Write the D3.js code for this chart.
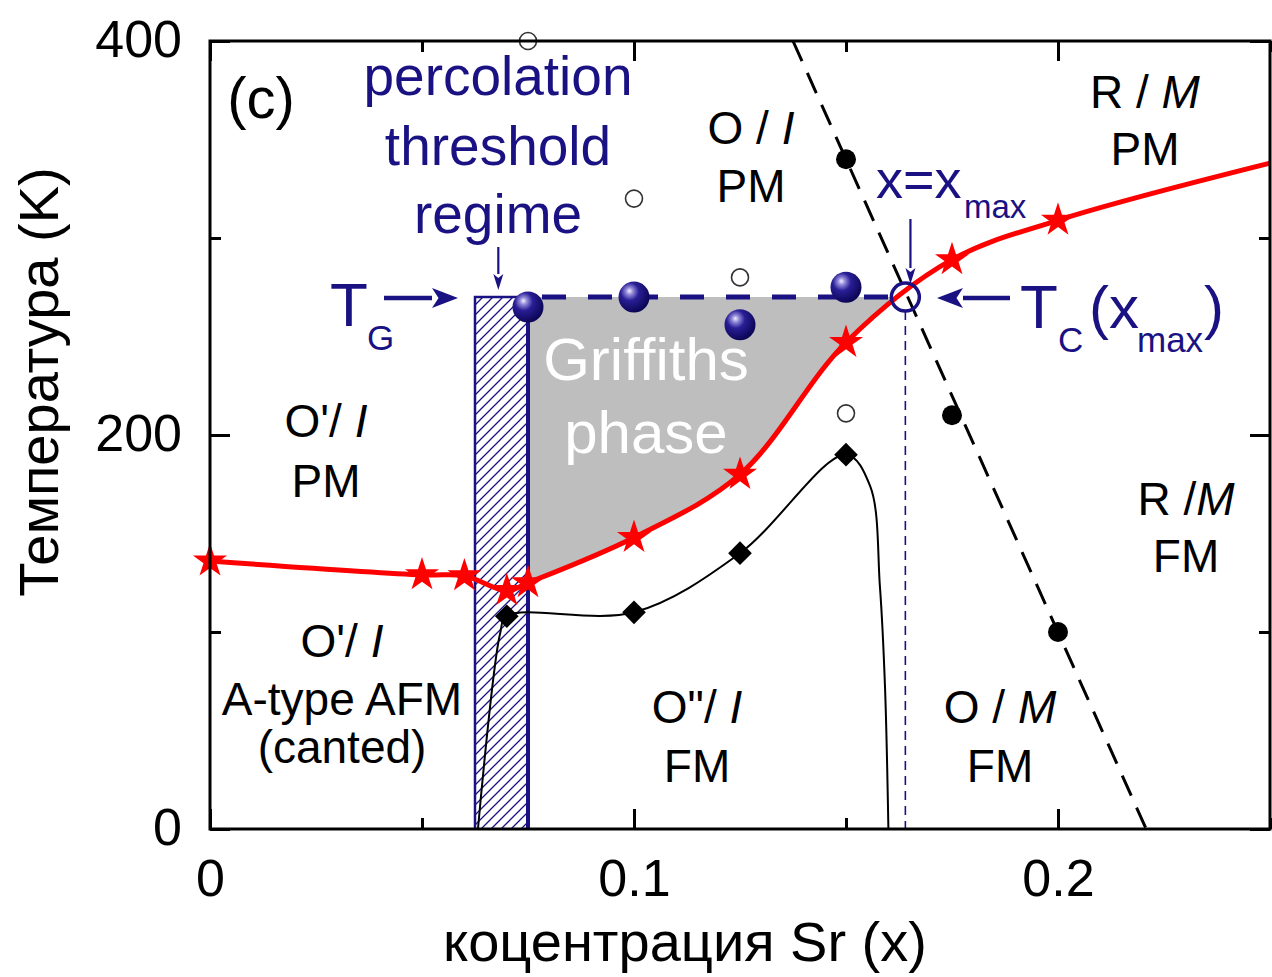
<!DOCTYPE html>
<html><head><meta charset="utf-8">
<script src="https://cdn.jsdelivr.net/npm/d3@7"></script>
<style>html,body{margin:0;padding:0;background:#fff;}svg{display:block;}</style>
</head><body>
<script>
// ---------- data ----------
const tcX = [0, 0.05, 0.06, 0.07, 0.075, 0.1, 0.125, 0.15, 0.175, 0.2];   // red stars
const tcT = [136, 129, 128.5, 121, 125, 148, 180, 247, 289, 309];
const tcLineX = [0, 0.05, 0.06, 0.07, 0.075, 0.1, 0.125, 0.15, 0.175, 0.2, 0.25]; // red line
const tcLineT = [136, 129, 128.5, 121, 125, 148, 180, 247, 289, 309, 338];
const tnX = [0.07, 0.1, 0.125, 0.15];            // black diamonds
const tnT = [108, 110, 140, 190];
const tnCurveX = [0.0632, 0.0684, 0.07, 0.1, 0.125, 0.15, 0.1557, 0.158, 0.1592, 0.16];
const tnCurveT = [0, 99, 108, 110, 140, 190, 174, 123, 72, 0];
const openX = [0.075, 0.1, 0.125, 0.15];          // open circles
const openT = [400, 320, 280, 211];
const dotX = [0.15, 0.175, 0.2];                  // filled black circles
const dotT = [340, 210, 100];
const bndX = [0.1375, 0.2208];                    // dashed structural boundary
const bndT = [400, 0];
const tgX = [0.075, 0.1, 0.125, 0.15];            // blue spheres (T_G)
const tgT = [265, 270, 256, 275];
const TG = 270;
const percX = [0.0625, 0.075];
const xMax = 0.164;
const xMajor = [0, 0.1, 0.2];
const xMinor = [0.05, 0.15, 0.25];
const yMajor = [0, 200, 400];
const yMinor = [100, 300];
const xTickLabels = ["0", "0.1", "0.2"];
const yTickLabels = ["0", "200", "400"];

// ---------- setup ----------
const W = 1272, H = 977;
const NAVY = "#1a1183";
const FONT = "'Liberation Sans', Arial, Helvetica, sans-serif";
const svg = d3.select("body").append("svg").attr("width", W).attr("height", H)
  .style("font-family", FONT);
const x = d3.scaleLinear().domain([0, 0.25]).range([210, 1270]);
const y = d3.scaleLinear().domain([0, 400]).range([829, 41]);

const defs = svg.append("defs");
const pat = defs.append("pattern").attr("id", "hatch").attr("patternUnits", "userSpaceOnUse")
  .attr("width", 10).attr("height", 10);
pat.append("path").attr("d", "M-1,1 L1,-1 M0,10 L10,0 M9,11 L11,9").attr("stroke", NAVY).attr("stroke-width", 1.3);
const rg = defs.append("radialGradient").attr("id", "sphere").attr("cx", "38%").attr("cy", "35%").attr("r", "65%")
  .attr("fx", "35%").attr("fy", "30%");
rg.append("stop").attr("offset", "0%").attr("stop-color", "#f4f0ff");
rg.append("stop").attr("offset", "18%").attr("stop-color", "#9088d8");
rg.append("stop").attr("offset", "45%").attr("stop-color", "#2a1e96");
rg.append("stop").attr("offset", "100%").attr("stop-color", "#0c0656");
defs.append("clipPath").attr("id", "gclip").append("rect")
  .attr("x", x(percX[1])).attr("y", y(TG)).attr("width", x(0.25) - x(percX[1])).attr("height", y(0) - y(TG));

const tcPts = tcLineX.map((v, i) => [v, tcLineT[i]]);
const redLine = d3.line().x(d => x(d[0])).y(d => y(d[1])).curve(d3.curveCatmullRom.alpha(0.5));

// Griffiths region (above red curve, below T_G, right of percolation)
svg.append("path")
  .attr("d", redLine(tcPts) + `L${x(0.25)},${y(400)}L${x(0)},${y(400)}Z`)
  .attr("fill", "#bebebe").attr("clip-path", "url(#gclip)");

// hatched percolation band
svg.append("rect").attr("x", x(percX[0])).attr("y", y(TG))
  .attr("width", x(percX[1]) - x(percX[0])).attr("height", y(0) - y(TG))
  .attr("fill", "url(#hatch)");
svg.append("path").attr("d", `M${x(percX[0])},${y(0)}V${y(TG)}H${x(percX[1])}`)
  .attr("fill", "none").attr("stroke", NAVY).attr("stroke-width", 2.5);
svg.append("line").attr("x1", x(percX[1])).attr("x2", x(percX[1])).attr("y1", y(TG)).attr("y2", y(0))
  .attr("stroke", NAVY).attr("stroke-width", 4);

// dashed structural boundary
svg.append("line").attr("x1", x(bndX[0])).attr("y1", y(bndT[0])).attr("x2", x(bndX[1])).attr("y2", y(bndT[1]))
  .attr("stroke", "#000").attr("stroke-width", 3).attr("stroke-dasharray", "22,13");

// vertical thin dashed line at x_max
svg.append("line").attr("x1", x(xMax)).attr("x2", x(xMax)).attr("y1", y(TG) + 14).attr("y2", y(0))
  .attr("stroke", NAVY).attr("stroke-width", 1.6).attr("stroke-dasharray", "9,6");

// thin black curve
const tnPts = tnCurveX.map((v, i) => [v, tnCurveT[i]]);
svg.append("path").attr("d", d3.line().x(d => x(d[0])).y(d => y(d[1])).curve(d3.curveCatmullRom.alpha(0.5))(tnPts))
  .attr("fill", "none").attr("stroke", "#000").attr("stroke-width", 2);

// red curve
svg.append("path").attr("d", redLine(tcPts)).attr("fill", "none").attr("stroke", "#ff0000").attr("stroke-width", 5);

// T_G dashed line
svg.append("line").attr("x1", x(percX[1])).attr("x2", x(xMax) - 12).attr("y1", y(TG)).attr("y2", y(TG))
  .attr("stroke", NAVY).attr("stroke-width", 5).attr("stroke-dasharray", "24,22").attr("stroke-dashoffset", -14);

// diamonds
const sq = d3.symbol(d3.symbolSquare, 280);
svg.append("g").selectAll("path").data(tnX).join("path")
  .attr("d", sq).attr("transform", (d, i) => `translate(${x(d)},${y(tnT[i])}) rotate(45)`).attr("fill", "#000");

// stars
const star = d3.symbol(d3.symbolStar, 360);
svg.append("g").selectAll("path").data(tcX).join("path")
  .attr("d", star).attr("transform", (d, i) => `translate(${x(d)},${y(tcT[i])})`).attr("fill", "#ff0000");

// open circles
svg.append("g").selectAll("circle").data(openX).join("circle")
  .attr("cx", d => x(d)).attr("cy", (d, i) => y(openT[i])).attr("r", 8.5)
  .attr("fill", "#fff").attr("stroke", "#333").attr("stroke-width", 1.6);

// filled circles
svg.append("g").selectAll("circle").data(dotX).join("circle")
  .attr("cx", d => x(d)).attr("cy", (d, i) => y(dotT[i])).attr("r", 10).attr("fill", "#000");

// spheres
svg.append("g").selectAll("circle").data(tgX).join("circle")
  .attr("cx", d => x(d)).attr("cy", (d, i) => y(tgT[i])).attr("r", 15.5).attr("fill", "url(#sphere)");

// x_max circle
svg.append("circle").attr("cx", x(xMax)).attr("cy", y(TG)).attr("r", 14)
  .attr("fill", "none").attr("stroke", NAVY).attr("stroke-width", 3.5);

// arrows
function arrow(x1, y1, x2, y2, w, hl, hw) {
  const a = Math.atan2(y2 - y1, x2 - x1);
  const bx = x2 - hl * Math.cos(a), by = y2 - hl * Math.sin(a);
  svg.append("line").attr("x1", x1).attr("y1", y1).attr("x2", bx).attr("y2", by)
    .attr("stroke", NAVY).attr("stroke-width", w);
  const px = -Math.sin(a) * hw / 2, py = Math.cos(a) * hw / 2;
  svg.append("path").attr("d", `M${x2},${y2}L${bx + px},${by + py}L${bx + hl * 0.25 * Math.cos(a)},${by + hl * 0.25 * Math.sin(a)}L${bx - px},${by - py}Z`)
    .attr("fill", NAVY);
}
arrow(384, y(TG) + 1, 458, y(TG) + 1, 4.5, 26, 20);       // T_G
arrow(1010, y(TG) + 1, 937, y(TG) + 1, 4.5, 26, 20);      // T_C
arrow(x(0.068), 247, x(0.068), 290, 2.2, 16, 10);         // percolation
arrow(x(0.1652), 219, x(0.1652), 284, 2.2, 16, 10);       // x = x_max

// ---------- text ----------
function label(cx, lines, size, fill) {
  lines.forEach(l => {
    const t = svg.append("text").attr("x", cx).attr("y", l.y).attr("text-anchor", "middle")
      .attr("font-size", size).attr("fill", fill || "#000");
    l.parts.forEach(p => t.append("tspan").text(p[0]).attr("font-style", p[1] ? "italic" : null));
  });
}
label(261, [{y: 118, parts: [["(c)"]]}], 58);
label(498, [{y: 95, parts: [["percolation"]]}, {y: 165, parts: [["threshold"]]}, {y: 233, parts: [["regime"]]}], 55, NAVY);
label(751, [{y: 144, parts: [["O / "], ["I", 1]]}, {y: 202, parts: [["PM"]]}], 46);
label(1145, [{y: 108, parts: [["R / "], ["M", 1]]}, {y: 165, parts: [["PM"]]}], 46);
label(326, [{y: 437, parts: [["O'/ "], ["I", 1]]}, {y: 497, parts: [["PM"]]}], 46);
label(342, [{y: 657, parts: [["O'/ "], ["I", 1]]}, {y: 715, parts: [["A-type AFM"]]}, {y: 763, parts: [["(canted)"]]}], 46);
label(697, [{y: 723, parts: [["O\"/ "], ["I", 1]]}, {y: 782, parts: [["FM"]]}], 46);
label(1000, [{y: 723, parts: [["O / "], ["M", 1]]}, {y: 782, parts: [["FM"]]}], 46);
label(1186, [{y: 515, parts: [["R /"], ["M", 1]]}, {y: 572, parts: [["FM"]]}], 46);
label(646, [{y: 380, parts: [["Griffiths"]]}, {y: 453, parts: [["phase"]]}], 60, "#fff");

// T_G
svg.append("text").attr("x", 330).attr("y", 326).attr("font-size", 62).attr("fill", NAVY).text("T");
svg.append("text").attr("x", 367).attr("y", 350).attr("font-size", 35).attr("fill", NAVY).text("G");
// T_C(x_max)
svg.append("text").attr("x", 1020).attr("y", 328).attr("font-size", 62).attr("fill", NAVY).text("T");
svg.append("text").attr("x", 1058).attr("y", 352).attr("font-size", 35).attr("fill", NAVY).text("C");
svg.append("text").attr("x", 1089).attr("y", 328).attr("font-size", 60).attr("fill", NAVY).text("(x");
svg.append("text").attr("x", 1137).attr("y", 352).attr("font-size", 35).attr("fill", NAVY).text("max");
svg.append("text").attr("x", 1204).attr("y", 328).attr("font-size", 60).attr("fill", NAVY).text(")");
// x = x_max
svg.append("text").attr("x", 876).attr("y", 198).attr("font-size", 54).attr("fill", NAVY).text("x=x");
svg.append("text").attr("x", 964).attr("y", 218).attr("font-size", 33).attr("fill", NAVY).text("max");

// ---------- axes / frame ----------
const gx = svg.append("g").attr("transform", `translate(0,${y(0)})`);
gx.call(d3.axisBottom(x).tickValues(xMajor).tickSize(-20).tickPadding(30).tickFormat((d, i) => xTickLabels[i]));
const gx2 = svg.append("g").attr("transform", `translate(0,${y(0)})`);
gx2.call(d3.axisBottom(x).tickValues(xMinor).tickSize(-11).tickFormat(""));
const gt = svg.append("g").attr("transform", `translate(0,${y(400)})`);
gt.call(d3.axisTop(x).tickValues(xMajor).tickSize(-20).tickFormat(""));
const gt2 = svg.append("g").attr("transform", `translate(0,${y(400)})`);
gt2.call(d3.axisTop(x).tickValues(xMinor).tickSize(-11).tickFormat(""));
const gy = svg.append("g").attr("transform", `translate(${x(0)},0)`);
gy.call(d3.axisLeft(y).tickValues(yMajor).tickSize(-20).tickPadding(28).tickFormat((d, i) => yTickLabels[i]));
const gy2 = svg.append("g").attr("transform", `translate(${x(0)},0)`);
gy2.call(d3.axisLeft(y).tickValues(yMinor).tickSize(-11).tickFormat(""));
const gr = svg.append("g").attr("transform", `translate(${x(0.25)},0)`);
gr.call(d3.axisRight(y).tickValues(yMajor).tickSize(-20).tickFormat(""));
const gr2 = svg.append("g").attr("transform", `translate(${x(0.25)},0)`);
gr2.call(d3.axisRight(y).tickValues(yMinor).tickSize(-11).tickFormat(""));
svg.selectAll(".domain").remove();
svg.selectAll(".tick line").attr("stroke", "#000").attr("stroke-width", 3);
svg.selectAll(".tick text").attr("font-family", FONT).attr("font-size", 52).attr("fill", "#000");
gx.selectAll(".tick text").attr("dy", "0.71em");
gy.selectAll(".tick text").attr("dy", "0.3em");

svg.append("rect").attr("x", x(0)).attr("y", y(400)).attr("width", x(0.25) - x(0)).attr("height", y(0) - y(400))
  .attr("fill", "none").attr("stroke", "#000").attr("stroke-width", 3);

// axis titles
svg.append("text").attr("transform", "translate(58,382) rotate(-90)").attr("text-anchor", "middle")
  .attr("font-size", 56).attr("fill", "#000").text("Температура (K)");
svg.append("text").attr("x", 685).attr("y", 961).attr("text-anchor", "middle")
  .attr("font-size", 56).attr("fill", "#000").text("коцентрация Sr (x)");
</script>
</body></html>
